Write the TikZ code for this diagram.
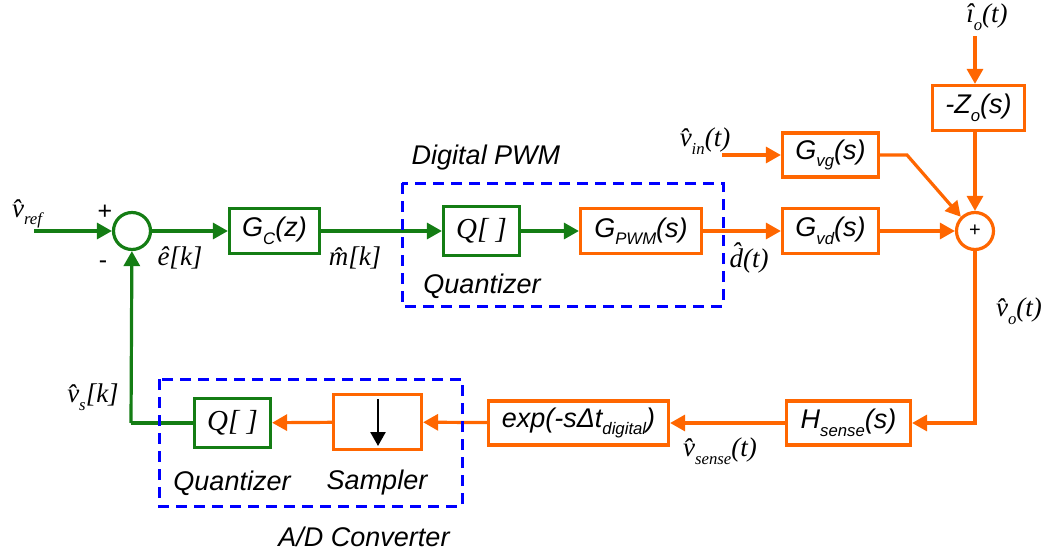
\documentclass[tikz,border=0pt]{standalone}
\usepackage{fontspec}
\setmainfont{Liberation Serif}
\setsansfont{Liberation Sans}
\usetikzlibrary{arrows.meta}
\definecolor{gr}{RGB}{20,125,20}
\definecolor{og}{RGB}{255,102,0}
\definecolor{bl}{RGB}{0,0,255}
\newcommand\sbs[1]{\raisebox{-0.28em}{\scalebox{0.62}{#1}}}
\begin{document}
\begin{tikzpicture}[x=1pt,y=-1pt,
 blk/.style={draw,line width=3.2pt,rectangle,inner sep=0pt,text=black,font=\fontsize{27}{27}\sffamily\itshape},
 gblk/.style={blk,draw=gr},
 oblk/.style={blk,draw=og},
 qtext/.style={font=\fontsize{29}{29}\rmfamily\itshape},
 lbl/.style={font=\fontsize{27}{27}\rmfamily\itshape,inner sep=0pt},
 tag/.style={font=\fontsize{27}{27}\sffamily\itshape,inner sep=0pt},
 gline/.style={draw=gr,line width=3.2pt},
 oline/.style={draw=og,line width=3.2pt},
 garr/.style={gline,-{Triangle[length=15pt,width=16pt]}},
 oarr/.style={oline,-{Triangle[length=15pt,width=16pt]}},
 frame/.style={draw=bl,line width=3pt,dash pattern=on 11pt off 7pt},
 sumc/.style={circle,line width=3.2pt,minimum size=37pt,inner sep=0pt},
 ]
\useasboundingbox (0,0) rectangle (1047,554);

% blocks
\node[gblk,minimum width=90pt,minimum height=45pt] (gc) at (274.5,231) {G\sbs{C}(z)};
\node[gblk,qtext,minimum width=76pt,minimum height=49pt] (q1) at (481.5,231) {Q[ ]};
\node[oblk,minimum width=121pt,minimum height=45pt] (gpwm) at (641,231) {G\sbs{PWM}(s)};
\node[oblk,minimum width=96pt,minimum height=45pt] (gvd) at (830.5,231) {G\sbs{vd}(s)};
\node[oblk,minimum width=96pt,minimum height=44pt] (gvg) at (830.5,155) {G\sbs{vg}(s)};
\node[oblk,minimum width=92pt,minimum height=45pt] (zo) at (978.5,108) {-Z\sbs{o}(s)};
\node[oblk,minimum width=124pt,minimum height=44pt] (hs) at (848.5,423) {H\sbs{sense}(s)};
\node[oblk,minimum width=180pt,minimum height=44pt] (exp) at (578.5,423) {exp(-s\textit{Δ}t\sbs{digital})};
\node[oblk,minimum width=88pt,minimum height=55pt] (samp) at (377.5,422) {};
\node[gblk,qtext,minimum width=76pt,minimum height=49pt] (q2) at (232.5,423) {Q[ ]};

% summing junctions
\node[sumc,draw=gr] (s1) at (132,231) {};
\node[sumc,draw=og,font=\fontsize{20}{20}\sffamily] (s2) at (975,231) {+};

% labels
\node[lbl] (lvref) at (27,214) {\^{v}\sbs{ref}};
\node[font=\fontsize{25}{25}\sffamily,inner sep=0pt] (plus) at (105,212) {+};
\node[font=\fontsize{25}{25}\sffamily,inner sep=0pt] (minus) at (103,265) {-};
\node[lbl] (le) at (180,258) {\^{e}[k]};
\node[lbl] (lm) at (355,258) {\^{m}[k]};
\node[lbl] (ld) at (749,258) {\^{d}(t)};
\node[lbl] (lvin) at (705,141) {\^{v}\sbs{in}(t)};
\node[lbl] (lio) at (987,17) {î\sbs{o}(t)};
\node[lbl] (lvo) at (1019,311) {\^{v}\sbs{o}(t)};
\node[lbl] (lvs) at (720,451) {\^{v}\sbs{sense}(t)};
\node[lbl] (lvsk) at (93,397) {\^{v}\sbs{s}[k]};
\node[tag] (tdpwm) at (486,158) {Digital PWM};
\node[tag] (tq1) at (482,286) {Quantizer};
\node[tag] (tq2) at (232,483) {Quantizer};
\node[tag] (tsamp) at (377,483) {Sampler};
\node[tag] (tad) at (364,537) {A/D Converter};

% connectors
\coordinate (in) at (34,231);
\coordinate (vinst) at (722,155);
\coordinate (bend) at (907,155);
\coordinate (iot) at (975,36);
\coordinate (corner) at (975,423);
\coordinate (fbk) at (131,423);
\draw[garr] (in) -- (s1);
\draw[garr] (s1) -- (gc);
\draw[garr] (gc) -- (q1);
\draw[garr] (q1) -- (gpwm);
\draw[oarr] (gpwm) -- (gvd);
\draw[oarr] (gvd) -- (s2);
\draw[oarr] (vinst) -- (gvg);
\draw[oarr] (gvg.east) -- (bend) -- (s2.135);
\draw[oarr] (iot) -- (iot |- zo.north);
\draw[oarr] (zo.south -| s2) -- (s2);
\draw[oarr] (s2) -- (corner) -- (hs);
\draw[oarr] (hs) -- (exp);
\draw[oarr] (exp) -- (samp);
\draw[oarr] (samp) -- (q2);
\draw[gline] (q2) -- (fbk);
\draw[garr] (fbk) -- (s1);

% sampler arrow
\draw[line width=2.5pt,-{Triangle[length=14pt,width=15pt]}] (378,399) -- (378,446);

% dashed frames
\draw[frame] (402,183) rectangle (723,306);
\draw[frame] (159,379) rectangle (462,506);
\end{tikzpicture}
\end{document}
